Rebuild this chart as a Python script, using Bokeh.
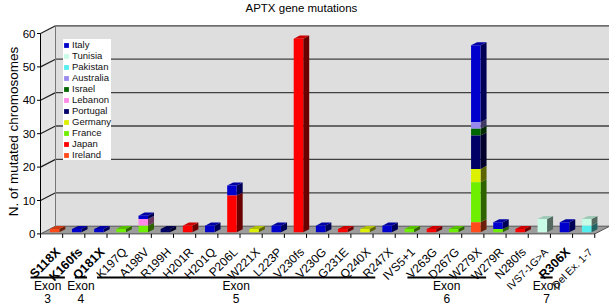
import numpy as np
from bokeh.plotting import figure
from bokeh.models import ColumnDataSource, Range1d, Legend, LegendItem
from bokeh.core.properties import value
from bokeh.embed import file_html
from bokeh.resources import INLINE

# ---------------- data ----------------
mutations = ["S118X", "K160fs", "Q181X", "K197Q", "A198V", "R199H", "H201R",
             "H201Q", "P206L", "W221X", "L223P", "V230fs", "V230G", "G231E",
             "Q240X", "R247X", "IVS5+1", "V263G", "D267G", "W279X", "W279R",
             "N280fs", "IVS7-1G>A", "R306X", "Del Ex. 1-7"]
bold_labels = ["S118X", "K160fs", "Q181X", "R306X"]
small_labels = ["IVS7-1G>A", "Del Ex. 1-7"]

countries = ["Italy", "Tunisia", "Pakistan", "Australia", "Israel", "Lebanon",
             "Portugal", "Germany", "France", "Japan", "Ireland"]
country_colors = ["#0000CC", "#C8FCE6", "#55EEEE", "#9988EE", "#006600",
                  "#FF88E8", "#000066", "#DDF000", "#6EEE00", "#FF0000",
                  "#FF4A1A"]

#            S1 K1 Q1 K1 A1 R1 H2 H2 P2 W2 L2 V2 V2 G2 Q2 R2 IV V2 D2 W2 W2 N2 IV R3 De
italy     = [0, 1, 1, 0, 1, 0, 0, 2, 3, 0, 2, 0, 2, 0, 0, 2, 0, 0, 0, 23, 2, 0, 0, 3, 0]
tunisia   = [0, 0, 0, 0, 0, 0, 0, 0, 0, 0, 0, 0, 0, 0, 0, 0, 0, 0, 0, 0, 0, 0, 4, 0, 2]
pakistan  = [0, 0, 0, 0, 0, 0, 0, 0, 0, 0, 0, 0, 0, 0, 0, 0, 0, 0, 0, 0, 0, 0, 0, 0, 2]
australia = [0, 0, 0, 0, 0, 0, 0, 0, 0, 0, 0, 0, 0, 0, 0, 0, 0, 0, 0, 2, 0, 0, 0, 0, 0]
israel    = [0, 0, 0, 0, 0, 0, 0, 0, 0, 0, 0, 0, 0, 0, 0, 0, 0, 0, 0, 2, 0, 0, 0, 0, 0]
lebanon   = [0, 0, 0, 0, 2, 0, 0, 0, 0, 0, 0, 0, 0, 0, 0, 0, 0, 0, 0, 0, 0, 0, 0, 0, 0]
portugal  = [0, 0, 0, 0, 0, 1, 0, 0, 0, 0, 0, 0, 0, 0, 0, 0, 0, 0, 0, 10, 0, 0, 0, 0, 0]
germany   = [0, 0, 0, 0, 0, 0, 0, 0, 0, 1, 0, 0, 0, 0, 1, 0, 0, 0, 0, 4, 0, 0, 0, 0, 0]
france    = [0, 0, 0, 1, 2, 0, 0, 0, 0, 0, 0, 0, 0, 0, 0, 0, 1, 0, 1, 12, 1, 0, 0, 0, 0]
japan     = [0, 0, 0, 0, 0, 0, 2, 0, 11, 0, 0, 58, 0, 1, 0, 0, 0, 1, 0, 0, 0, 1, 0, 0, 0]
ireland   = [1, 0, 0, 0, 0, 0, 0, 0, 0, 0, 0, 0, 0, 0, 0, 0, 0, 0, 0, 3, 0, 0, 0, 0, 0]
counts = [italy, tunisia, pakistan, australia, israel, lebanon, portugal,
          germany, france, japan, ireland]

exon_names = ["3", "4", "5", "6", "7"]
exon_first = [0, 2, 3, 17, 23]
exon_last = [1, 2, 15, 20, 23]

y_ticks = [0, 10, 20, 30, 40, 50, 60]
y_tick_labels = ["0", "10", "20", "30", "40", "50", "60"]
title_text = "APTX gene mutations"
ylabel_text = "N. of mutated chromosomes"

# ---------------- layout / style ----------------
FONT = "Liberation Sans"
W, H = 609, 306
SPINE = 40            # canvas x of the value axis
PX = 22.17            # px per category
YPX = 3.34            # px per chromosome
Y0 = 233.4            # canvas y of value 0
x0 = -0.5             # data x of the value axis
xs_ = x0 - SPINE / PX
xe_ = x0 + (W - SPINE) / PX
y_top = Y0 / YPX
y_bot = -(H - Y0) / YPX
DX, DY = 15.0 / PX, 7.7 / YPX     # depth vector of the 3D box
F0, F1 = 0.2, 0.6                 # bar depth (fraction of box depth)
BW = 9.5 / PX                     # bar front width
n = len(mutations)
xr = n - 0.5
ymax = y_ticks[-1]


def shade(hexcol, f):
    h = hexcol.lstrip("#")
    r, g, b = (int(h[k:k + 2], 16) for k in (0, 2, 4))
    return "#%02x%02x%02x" % (int(r * f), int(g * f), int(b * f))


p = figure(width=W, height=H, x_range=Range1d(xs_, xe_),
           y_range=Range1d(y_bot, y_top), output_backend="svg",
           toolbar_location=None, x_axis_location=None, y_axis_location=None,
           min_border=0)
p.background_fill_color = "white"
p.border_fill_color = "white"
p.outline_line_color = None
p.grid.visible = False

# ---- box: walls, floor, grid ----
p.quad(left=[x0 + DX], right=[xe_ + 1], bottom=[DY], top=[ymax + DY],
       fill_color="#DEDEDE", line_color=None)
p.patch([x0, x0 + DX, x0 + DX, x0], [0, DY, ymax + DY, ymax],
        fill_color="#E4E4E4", line_color=None)
p.patch([x0, xr, xr + DX, x0 + DX], [0, 0, DY, DY],
        fill_color="#9C9C9C", line_color="#555555", line_width=1)
gv = y_ticks[1:]
p.segment(x0=[x0 + DX] * len(gv), y0=[v + DY for v in gv],
          x1=[xe_ + 1] * len(gv), y1=[v + DY for v in gv],
          line_color="#404040", line_width=1.3)
p.segment(x0=[x0] * len(gv), y0=gv, x1=[x0 + DX] * len(gv),
          y1=[v + DY for v in gv], line_color="#202020", line_width=1.2)
p.segment(x0=[x0 + DX], y0=[DY], x1=[x0 + DX], y1=[ymax + DY],
          line_color="#777777", line_width=1)
kk = np.arange(n + 1) - 0.5
p.segment(x0=kk, y0=[0] * (n + 1), x1=kk, y1=[-1.2] * (n + 1),
          line_color="black", line_width=1)

# ---- value axis ----
p.segment(x0=[x0], y0=[0], x1=[x0], y1=[ymax], line_color="black",
          line_width=1)
TK = 3.5 / PX
p.segment(x0=[x0 - TK] * len(y_ticks), y0=y_ticks, x1=[x0] * len(y_ticks),
          y1=y_ticks, line_color="black", line_width=1)
p.text(x=[x0 - TK - 1.5 / PX] * len(y_ticks), y=y_ticks, text=y_tick_labels,
       text_align="right", text_baseline="middle", text_font=value(FONT),
       text_font_size="11.5px", text_color="black")
YL_X = x0 - 27.5 / PX
YL_Y = (Y0 - 131) / YPX
p.text(x=[YL_X], y=[YL_Y], text=[ylabel_text], angle=np.pi / 2,
       text_align="center", text_baseline="middle", text_font=value(FONT),
       text_font_size="13.5px", text_color="black")

# ---- stacked 3D bars ----
order = list(range(len(countries)))[::-1]       # bottom -> top
base = np.zeros(n)
seg_rows = {c: dict(left=[], right=[], bottom=[], top=[]) for c in countries}
side_xs, side_ys, side_c = [], [], []
top_face = {}
dd = F1 - F0
for ci in order:
    c = countries[ci]
    col = country_colors[ci]
    for i in range(n):
        v = counts[ci][i]
        if v <= 0:
            continue
        b, t = base[i], base[i] + v
        lft = i - BW / 2 + F0 * DX
        rgt = lft + BW
        rows = seg_rows[c]
        rows["left"].append(lft)
        rows["right"].append(rgt)
        rows["bottom"].append(b + F0 * DY)
        rows["top"].append(t + F0 * DY)
        side_xs.append([rgt, rgt + dd * DX, rgt + dd * DX, rgt])
        side_ys.append([b + F0 * DY, b + F1 * DY, t + F1 * DY, t + F0 * DY])
        side_c.append(shade(col, 0.42))
        top_face[i] = ([lft, rgt, rgt + dd * DX, lft + dd * DX],
                       [t + F0 * DY, t + F0 * DY, t + F1 * DY, t + F1 * DY],
                       shade(col, 0.8))
        base[i] = t

p.patches(xs=side_xs, ys=side_ys, fill_color=side_c, line_color=None)
p.patches(xs=[top_face[i][0] for i in sorted(top_face)],
          ys=[top_face[i][1] for i in sorted(top_face)],
          fill_color=[top_face[i][2] for i in sorted(top_face)],
          line_color=None)

front = {}
for ci, c in enumerate(countries):
    src = ColumnDataSource(seg_rows[c])
    front[c] = p.quad(left="left", right="right", bottom="bottom", top="top",
                      source=src, fill_color=country_colors[ci],
                      line_color=None)

# ---- category labels ----
LX, LY = 0.3, -4.8
for group, size, style in (
        ([m for m in mutations if m not in bold_labels + small_labels], "12px", "normal"),
        ([m for m in mutations if m in bold_labels], "12.5px", "bold"),
        ([m for m in mutations if m in small_labels], "10.5px", "normal")):
    idx = [mutations.index(m) for m in group]
    p.text(x=[i + LX for i in idx], y=[LY] * len(idx), text=group,
           angle=np.pi / 4, text_align="right", text_baseline="middle",
           text_font=value(FONT), text_font_size=size,
           text_font_style=style, text_color="black")

# ---- exon groups ----
YU, YE, YN = -13.05, -15.6, -19.2
ex0 = [f - 0.95 for f in exon_first]
ex1 = [l - 0.4 for l in exon_last]
exc = [(a + b) / 2 for a, b in zip(ex0, ex1)]
p.segment(x0=ex0, y0=[YU] * len(ex0), x1=ex1, y1=[YU] * len(ex0),
          line_color="black", line_width=2)
p.text(x=exc, y=[YE] * len(exc), text=["Exon"] * len(exc),
       text_align="center", text_baseline="middle", text_font=value(FONT),
       text_font_size="12px", text_color="black")
p.text(x=exc, y=[YN] * len(exc), text=exon_names, text_align="center",
       text_baseline="middle", text_font=value(FONT), text_font_size="12px",
       text_color="black")

# ---- title ----
TITLE_X, TITLE_Y = 11.27, 67.6
p.text(x=[TITLE_X], y=[TITLE_Y], text=[title_text], text_align="center",
       text_baseline="middle", text_font=value(FONT), text_font_size="11.5px",
       text_color="black")

# ---- legend ----
legend = Legend(items=[LegendItem(label=c, renderers=[front[c]]) for c in countries],
                location=(63, 146), glyph_width=6, glyph_height=6,
                label_height=11, spacing=0, padding=3, margin=0,
                label_standoff=3, label_text_font=FONT,
                label_text_font_size="9.5px", label_text_color="#111111",
                background_fill_color="white", background_fill_alpha=1,
                border_line_color=None)
p.add_layout(legend)

open("out.html", "w").write(file_html(p, INLINE))
